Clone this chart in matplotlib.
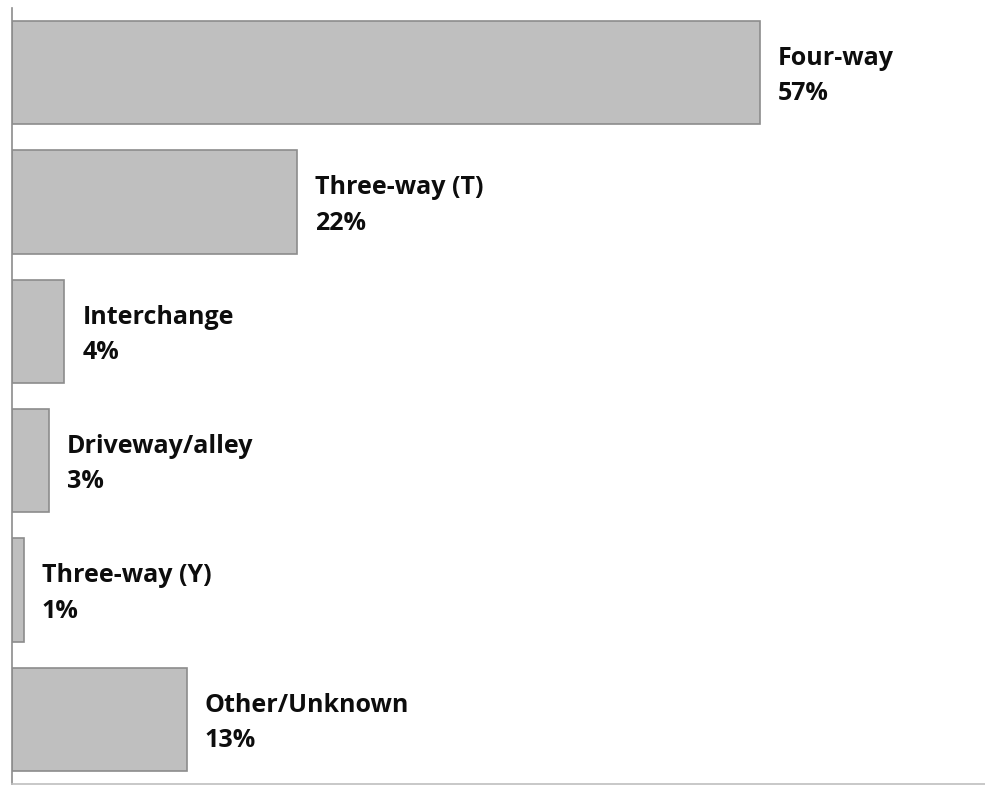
import matplotlib
matplotlib.use("Agg")
import matplotlib.pyplot as plt

categories = ["Four-way", "Three-way (T)", "Interchange", "Driveway/alley", "Three-way (Y)", "Other/Unknown"]
values = [57.0, 21.7, 4.0, 2.8, 0.9, 13.3]
labels = ["57%", "22%", "4%", "3%", "1%", "13%"]

plt.rcParams['font.family'] = ['Open Sans', 'DejaVu Sans']

fig = plt.figure(figsize=(9.85, 7.85), dpi=100)
ax = fig.add_axes([12/985, 1/785, (985-12)/985, 776/785])

y = list(range(len(categories)))
ax.barh(y, values, height=0.80, color="#bfbfbf", edgecolor="#8c8c8c", linewidth=1.2)
ax.set_ylim(len(categories) - 0.5, -0.5)
ax.set_xlim(0, (985 - 12) / ((760 - 12) / 57))

for i, (c, v, l) in enumerate(zip(categories, values, labels)):
    ax.annotate(f"{c}\n{l}", xy=(v, i), xytext=(13, -2.5), textcoords="offset points",
                ha="left", va="center", fontsize=18, fontweight="bold",
                color="#0d0d0d", linespacing=1.55)

for s in ["top", "right"]:
    ax.spines[s].set_visible(False)
ax.spines["left"].set_color("#8c8c8c")
ax.spines["bottom"].set_color("#bfbfbf")
ax.spines["left"].set_linewidth(1.2)
ax.spines["bottom"].set_linewidth(1.2)
ax.set_xticks([])
ax.set_yticks([])

fig.savefig("out.png", dpi=100)
